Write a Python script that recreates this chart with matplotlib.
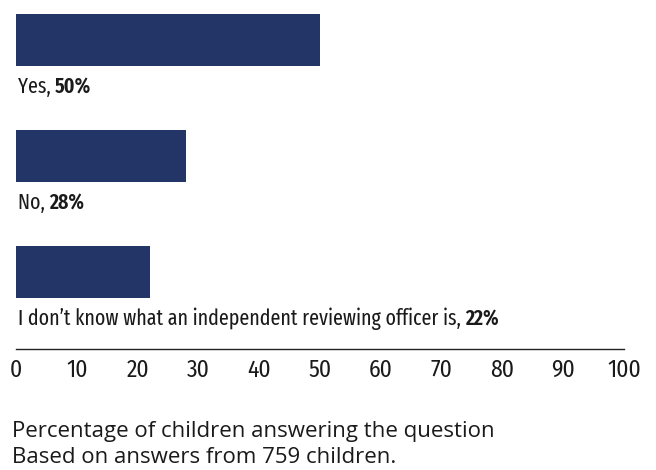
import matplotlib
matplotlib.use("Agg")
import matplotlib.pyplot as plt

categories = ["Yes", "No", "I don\u2019t know what an independent reviewing officer is"]
values = [50, 28, 22]
ticks = [0, 10, 20, 30, 40, 50, 60, 70, 80, 90, 100]
caption = ["Percentage of children answering the question", "Based on answers from 759 children."]

COND = ['Fira Sans Extra Condensed', 'Fira Sans Condensed', 'DejaVu Sans']
TICKF = ['Fira Sans Condensed', 'DejaVu Sans']
REG = ['Open Sans', 'DejaVu Sans']
plt.rcParams['font.family'] = COND
FS = 15.6
FS_TICK = 17
FS_CAP = 16
color = "#233567"
tcol = '#1a1a1a'

W, H = 656, 470
fig = plt.figure(figsize=(W/100, H/100), dpi=100)
ax = fig.add_axes([16/W, 1 - 349/H, 608/W, 349/H])

pos = list(range(len(values)))
ax.barh(pos, values, height=52/116, color=color, align='center')
ax.set_xlim(0, 100)
ax.set_ylim(349/116 - 40/116, -40/116)

for p, c, v in zip(pos, categories, values):
    t = ax.text(0.3, p + 0.46, c + ", ", fontsize=FS, va='baseline', ha='left', color=tcol,
                fontweight='normal')
    ax.annotate(f"{v}%", xy=(1, 0), xycoords=t, va='bottom', ha='left', fontsize=FS,
                fontweight='semibold', color=tcol)

for s in ['top', 'right', 'left']:
    ax.spines[s].set_visible(False)
ax.spines['bottom'].set_linewidth(1.0)
ax.spines['bottom'].set_color('#222222')
ax.set_yticks([])
ax.set_xticks(ticks)
ax.tick_params(axis='x', length=0, pad=7, labelcolor=tcol)
for lab in ax.get_xticklabels():
    lab.set_fontfamily(TICKF)
    lab.set_fontsize(FS_TICK)
    lab.set_fontweight('normal')

fig.text(12/W, 1 - 437/H, caption[0], fontsize=FS_CAP, va='baseline', ha='left', color=tcol, family=REG)
fig.text(12/W, 1 - 463/H, caption[1], fontsize=FS_CAP, va='baseline', ha='left', color=tcol, family=REG)

fig.savefig("out.png", dpi=100)
